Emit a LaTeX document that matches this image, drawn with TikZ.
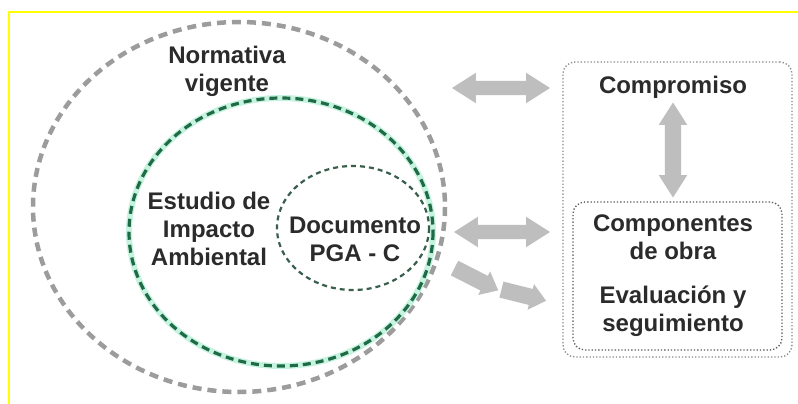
\documentclass[tikz,border=0pt]{standalone}
\usepackage{fontspec}
\setmainfont{Liberation Sans}
\usetikzlibrary{shapes.arrows}
\definecolor{txt}{HTML}{2B2B2B}
\definecolor{outergray}{HTML}{9C9C9C}
\definecolor{darkgreen}{HTML}{1F6B45}
\definecolor{glow}{HTML}{C6F3E0}
\definecolor{smallgreen}{HTML}{3A5E4C}
\definecolor{arrowgray}{HTML}{BEBEBE}
\definecolor{boxgray}{HTML}{8A8A8A}
\definecolor{boxdark}{HTML}{5A5A5A}
\definecolor{frameyellow}{HTML}{FFFF00}
\begin{document}
\begin{tikzpicture}[x=1pt,y=-1pt,
  lbl/.style={font=\fontsize{24}{28}\selectfont\bfseries, text=txt, align=center, inner sep=0pt},
  dblarrow/.style={double arrow, fill=arrowgray, draw=none, inner xsep=0pt, inner ysep=7pt,
     double arrow head extend=8pt, double arrow tip angle=65},
  sglarrow/.style={single arrow, fill=arrowgray, draw=none, inner xsep=0pt, inner ysep=8pt,
     single arrow head extend=5pt, single arrow tip angle=80},
  boxouter/.style={draw=boxgray, line width=1.3pt, dotted, rounded corners=12pt},
  boxinner/.style={draw=boxdark, line width=1.3pt, dotted, rounded corners=12pt}]
\useasboundingbox (0,0) rectangle (798,404);
\fill[white] (0,0) rectangle (798,404);
% yellow frame
\draw[frameyellow, line width=1.5pt] (798,12) -- (9,12) -- (9,404);
% circles
\coordinate (cOut) at (239,207);
\coordinate (cEia) at (281,232);
\coordinate (cDoc) at (353,228);
\draw[outergray, line width=4.5pt, dash pattern=on 9pt off 6pt] (cOut) ellipse [x radius=206, y radius=185];
\draw[glow, line width=6pt] (cEia) ellipse [x radius=152, y radius=134];
\draw[darkgreen, line width=3.2pt, dash pattern=on 8pt off 5pt] (cEia) ellipse [x radius=152, y radius=134];
\draw[smallgreen, line width=2.2pt, dash pattern=on 5pt off 4pt] (cDoc) ellipse [x radius=76, y radius=62];
% texts in circles
\node[lbl] (norm) at (227,71) {Normativa\\vigente};
\node[lbl] (eia) at (209,229) {Estudio de\\Impacto\\Ambiental};
\node[lbl] (doc) at (355,239) {Documento\\PGA - C};
% right boxes
\node[boxouter, minimum width=229pt, minimum height=295pt] (outbox) at (677.5,209.5) {};
\node[boxinner, minimum width=209pt, minimum height=148pt] (inbox) at (677.5,276) {};
\node[lbl] (comp) at (673,87) {Compromiso};
\node[lbl] (obra) at (673,237.5) {Componentes\\de obra};
\node[lbl] (eval) at (673,311.5) {Evaluación y\\seguimiento};
% arrows
\node[dblarrow, minimum height=98pt] (a1) at (501,88) {};
\node[dblarrow, minimum height=96pt] (a2) at (502,232) {};
\node[dblarrow, minimum height=95pt, inner ysep=8pt, double arrow head extend=6pt, rotate=90] (a3) at (673,150) {};
\node[sglarrow, minimum height=49pt, rotate=-27] (a4) at (472,277) {};
\node[sglarrow, minimum height=46pt, rotate=-14] (a5) at (519,294) {};
\end{tikzpicture}
\end{document}
